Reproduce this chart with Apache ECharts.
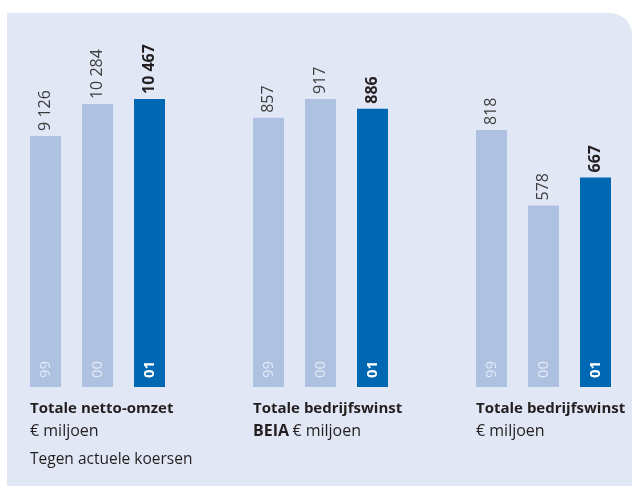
<!DOCTYPE html>
<html><head><meta charset="utf-8">
<script src="https://cdn.jsdelivr.net/npm/echarts@6/dist/echarts.min.js"></script>
<style>html,body{margin:0;padding:0;background:#fff}#c{width:632px;height:486px}</style>
</head><body><div id="c"></div>
<script>
const years = ['99', '00', '01'];
const omzet = [9126, 10284, 10467];
const winstBeia = [857, 917, 886];
const winst = [818, 578, 667];
const titles = ['Totale netto-omzet', 'Totale bedrijfswinst', 'Totale bedrijfswinst'];

const light = '#aec1e1', dark = '#0068b3';
const FONT = 'Open Sans';
const fmt = v => String(v).replace(/\B(?=(\d{3})+(?!\d))/g, ' ');

const panels = [omzet, winstBeia, winst];
const maxes = [Math.max(...omzet), Math.max(...winstBeia, ...winst), Math.max(...winstBeia, ...winst)];
const lefts = [19.5, 242.5, 465.5];

const grids = [], xAxes = [], yAxes = [], series = [];
panels.forEach((d, i) => {
  grids.push({left: lefts[i], width: 156, top: 99, bottom: 99});
  xAxes.push({type: 'category', gridIndex: i, data: years, show: false});
  yAxes.push({type: 'value', gridIndex: i, min: 0, max: maxes[i], show: false});
  const last = d.length - 1;
  series.push({
    type: 'bar', xAxisIndex: i, yAxisIndex: i, barWidth: 31, barGap: '-100%',
    data: d.map((v, k) => ({value: v, itemStyle: {color: k === last ? dark : light}})),
    label: {show: true, position: 'insideBottom', rotate: 90, align: 'left', verticalAlign: 'middle',
      distance: 9, fontFamily: FONT, fontSize: 15,
      formatter: p => p.dataIndex === last ? '{b|' + p.name + '}' : '{n|' + p.name + '}',
      rich: {b: {color: '#ffffff', fontWeight: 'bold', fontFamily: FONT, fontSize: 15},
             n: {color: '#e4eaf6', fontFamily: FONT, fontSize: 15}}},
    silent: true, animation: false
  });
  series.push({
    type: 'bar', xAxisIndex: i, yAxisIndex: i, barWidth: 31, barGap: '-100%',
    data: d, itemStyle: {color: 'rgba(0,0,0,0)'},
    label: {show: true, position: 'top', rotate: 90, align: 'left', verticalAlign: 'middle',
      distance: 5, fontFamily: FONT, fontSize: 16,
      formatter: p => p.dataIndex === last ? '{b|' + fmt(p.value) + '}' : '{n|' + fmt(p.value) + '}',
      rich: {b: {color: '#231f20', fontWeight: 'bold', fontFamily: FONT, fontSize: 16},
             n: {color: '#3c3c3c', fontFamily: FONT, fontSize: 16}}},
    silent: true, animation: false
  });
});

const t = (x, y, text, size, weight) => ({type: 'text', left: x, top: y,
  style: {text, fontFamily: FONT, fontSize: size, fontWeight: weight || 'normal', fill: '#231f20'}});
const graphic = [
  {type: 'rect', z: -10, shape: {x: 7, y: 13, width: 625, height: 480, r: [0, 22, 0, 0]}, style: {fill: '#e1e7f4'}},
  t(30, 401, titles[0], 15, 'bold'),
  t(30, 423, '€ miljoen', 16),
  t(30, 452, 'Tegen actuele koersen', 15.5),
  t(253, 401, titles[1], 15, 'bold'),
  {type: 'text', left: 253, top: 423, style: {text: '{b|BEIA} {n|€ miljoen}', fill: '#231f20',
     rich: {b: {fontFamily: FONT, fontWeight: 'bold', fontSize: 16, fill: '#231f20'},
            n: {fontFamily: FONT, fontSize: 16, fill: '#231f20'}}}},
  t(476, 401, titles[2], 15, 'bold'),
  t(476, 423, '€ miljoen', 16)
];

const chart = echarts.init(document.getElementById('c'), null, {renderer: 'canvas'});
chart.setOption({animation: false, grid: grids, xAxis: xAxes, yAxis: yAxes, series, graphic});
</script></body></html>
